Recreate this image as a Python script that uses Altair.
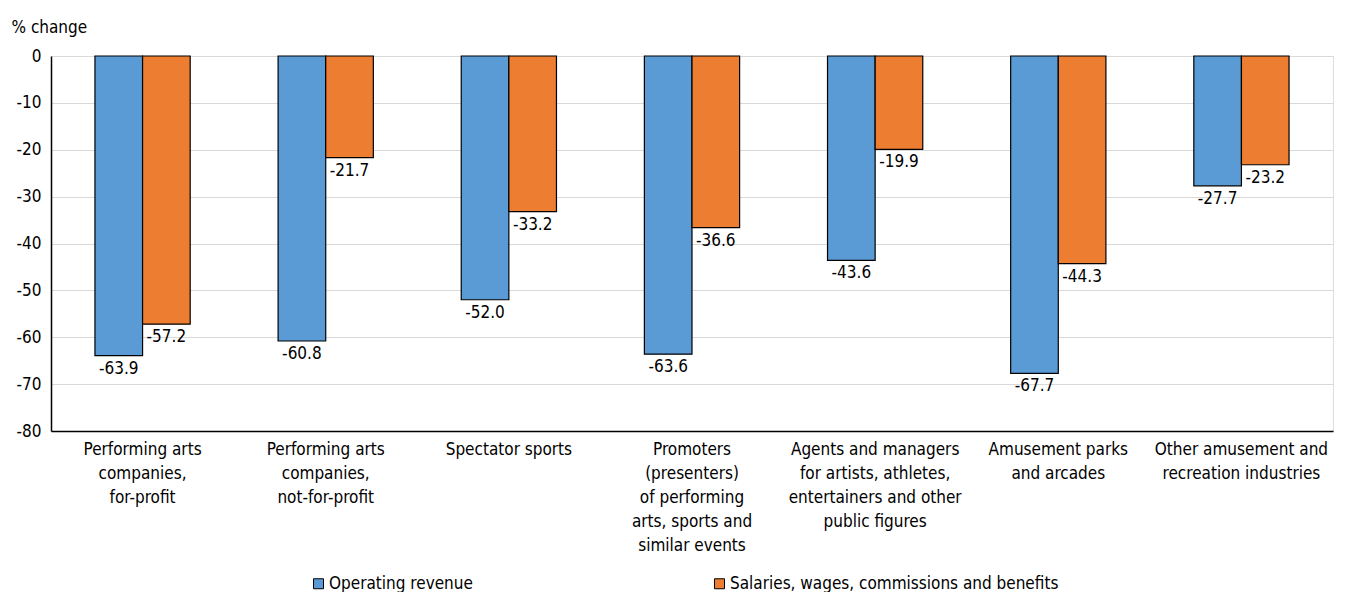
import altair as alt
import pandas as pd

categories = [
    "Performing arts|companies,|for-profit",
    "Performing arts|companies,|not-for-profit",
    "Spectator sports",
    "Promoters|(presenters)|of performing|arts, sports and|similar events",
    "Agents and managers|for artists, athletes,|entertainers and other|public figures",
    "Amusement parks|and arcades",
    "Other amusement and|recreation industries",
]
series = ["Operating revenue", "Salaries, wages, commissions and benefits"]
operating_revenue = [-63.9, -60.8, -52.0, -63.6, -43.6, -67.7, -27.7]
salaries = [-57.2, -21.7, -33.2, -36.6, -19.9, -44.3, -23.2]
y_ticks = [0, -10, -20, -30, -40, -50, -60, -70, -80]
colors = ["#5B9BD5", "#ED7D31"]

rows = []
for c, v in zip(categories, operating_revenue):
    rows.append({"category": c, "series": series[0], "value": v})
for c, v in zip(categories, salaries):
    rows.append({"category": c, "series": series[1], "value": v})
df = pd.DataFrame(rows)

FONT = "'DejaVu Sans Condensed', 'Roboto Condensed', 'Liberation Sans Narrow', Roboto, sans-serif"

x_enc = alt.X(
    "category:N",
    sort=categories,
    scale=alt.Scale(paddingInner=0.48, paddingOuter=0.24),
    axis=alt.Axis(
        title=None,
        labelAngle=0,
        labelExpr="split(datum.label, '|')",
        labelFontSize=17,
        labelLineHeight=24,
        labelPadding=10,
        labelColor="#000000",
        labelFont=FONT,
        labelLimit=300,
        ticks=False,
        domainColor="#000000",
        domainWidth=1.5,
        grid=False,
        labelBaseline="top",
    ),
)

y_enc = alt.Y(
    "value:Q",
    scale=alt.Scale(domain=[-80, 0], nice=False),
    axis=alt.Axis(
        values=y_ticks,
        labelExpr="replace(datum.label, '\u2212', '-')",
        title="% change",
        titleAngle=0,
        titleAlign="left",
        titleBaseline="alphabetic",
        titleX=-40,
        titleY=-24,
        titleFont=FONT,
        titleFontSize=17,
        titleFontWeight="normal",
        titleColor="#000000",
        labelFont=FONT,
        labelFontSize=17,
        labelColor="#000000",
        labelPadding=10,
        ticks=False,
        domainColor="#000000",
        domainWidth=1.5,
        gridColor="#d9d9d9",
        gridWidth=1,
    ),
)

xoff = alt.XOffset("series:N", sort=series)

bars = alt.Chart(df).mark_bar(stroke="#000000", strokeWidth=1.2).encode(
    x=x_enc,
    y=y_enc,
    xOffset=xoff,
    color=alt.Color(
        "series:N",
        sort=series,
        scale=alt.Scale(domain=series, range=colors),
        legend=alt.Legend(
            title=None,
            orient="none",
            legendX=259,
            legendY=519,
            direction="horizontal",
            columns=2,
            columnPadding=238,
            symbolType="square",
            symbolSize=100,
            symbolStrokeColor="#000000",
            symbolStrokeWidth=1,
            labelFont=FONT,
            labelFontSize=17,
            labelColor="#000000",
            labelOffset=2,
            labelLimit=500,
        ),
    ),
)

labels = alt.Chart(df).transform_calculate(
    lbl="replace(format(datum.value, '.1f'), '\u2212', '-')"
).mark_text(
    baseline="top", dy=5, fontSize=17, font=FONT, color="#000000"
).encode(
    x=alt.X("category:N", sort=categories),
    y="value:Q",
    xOffset=xoff,
    text="lbl:N",
)

chart = (
    alt.layer(bars, labels)
    .properties(width=1282, height=375, padding={"left": 3, "top": 10, "right": 4, "bottom": 0})
    .configure_view(stroke="#000000", strokeWidth=1.5)
    .configure(background="#ffffff")
)

chart.save("out.html", embed_options={"renderer": "svg", "actions": False})
